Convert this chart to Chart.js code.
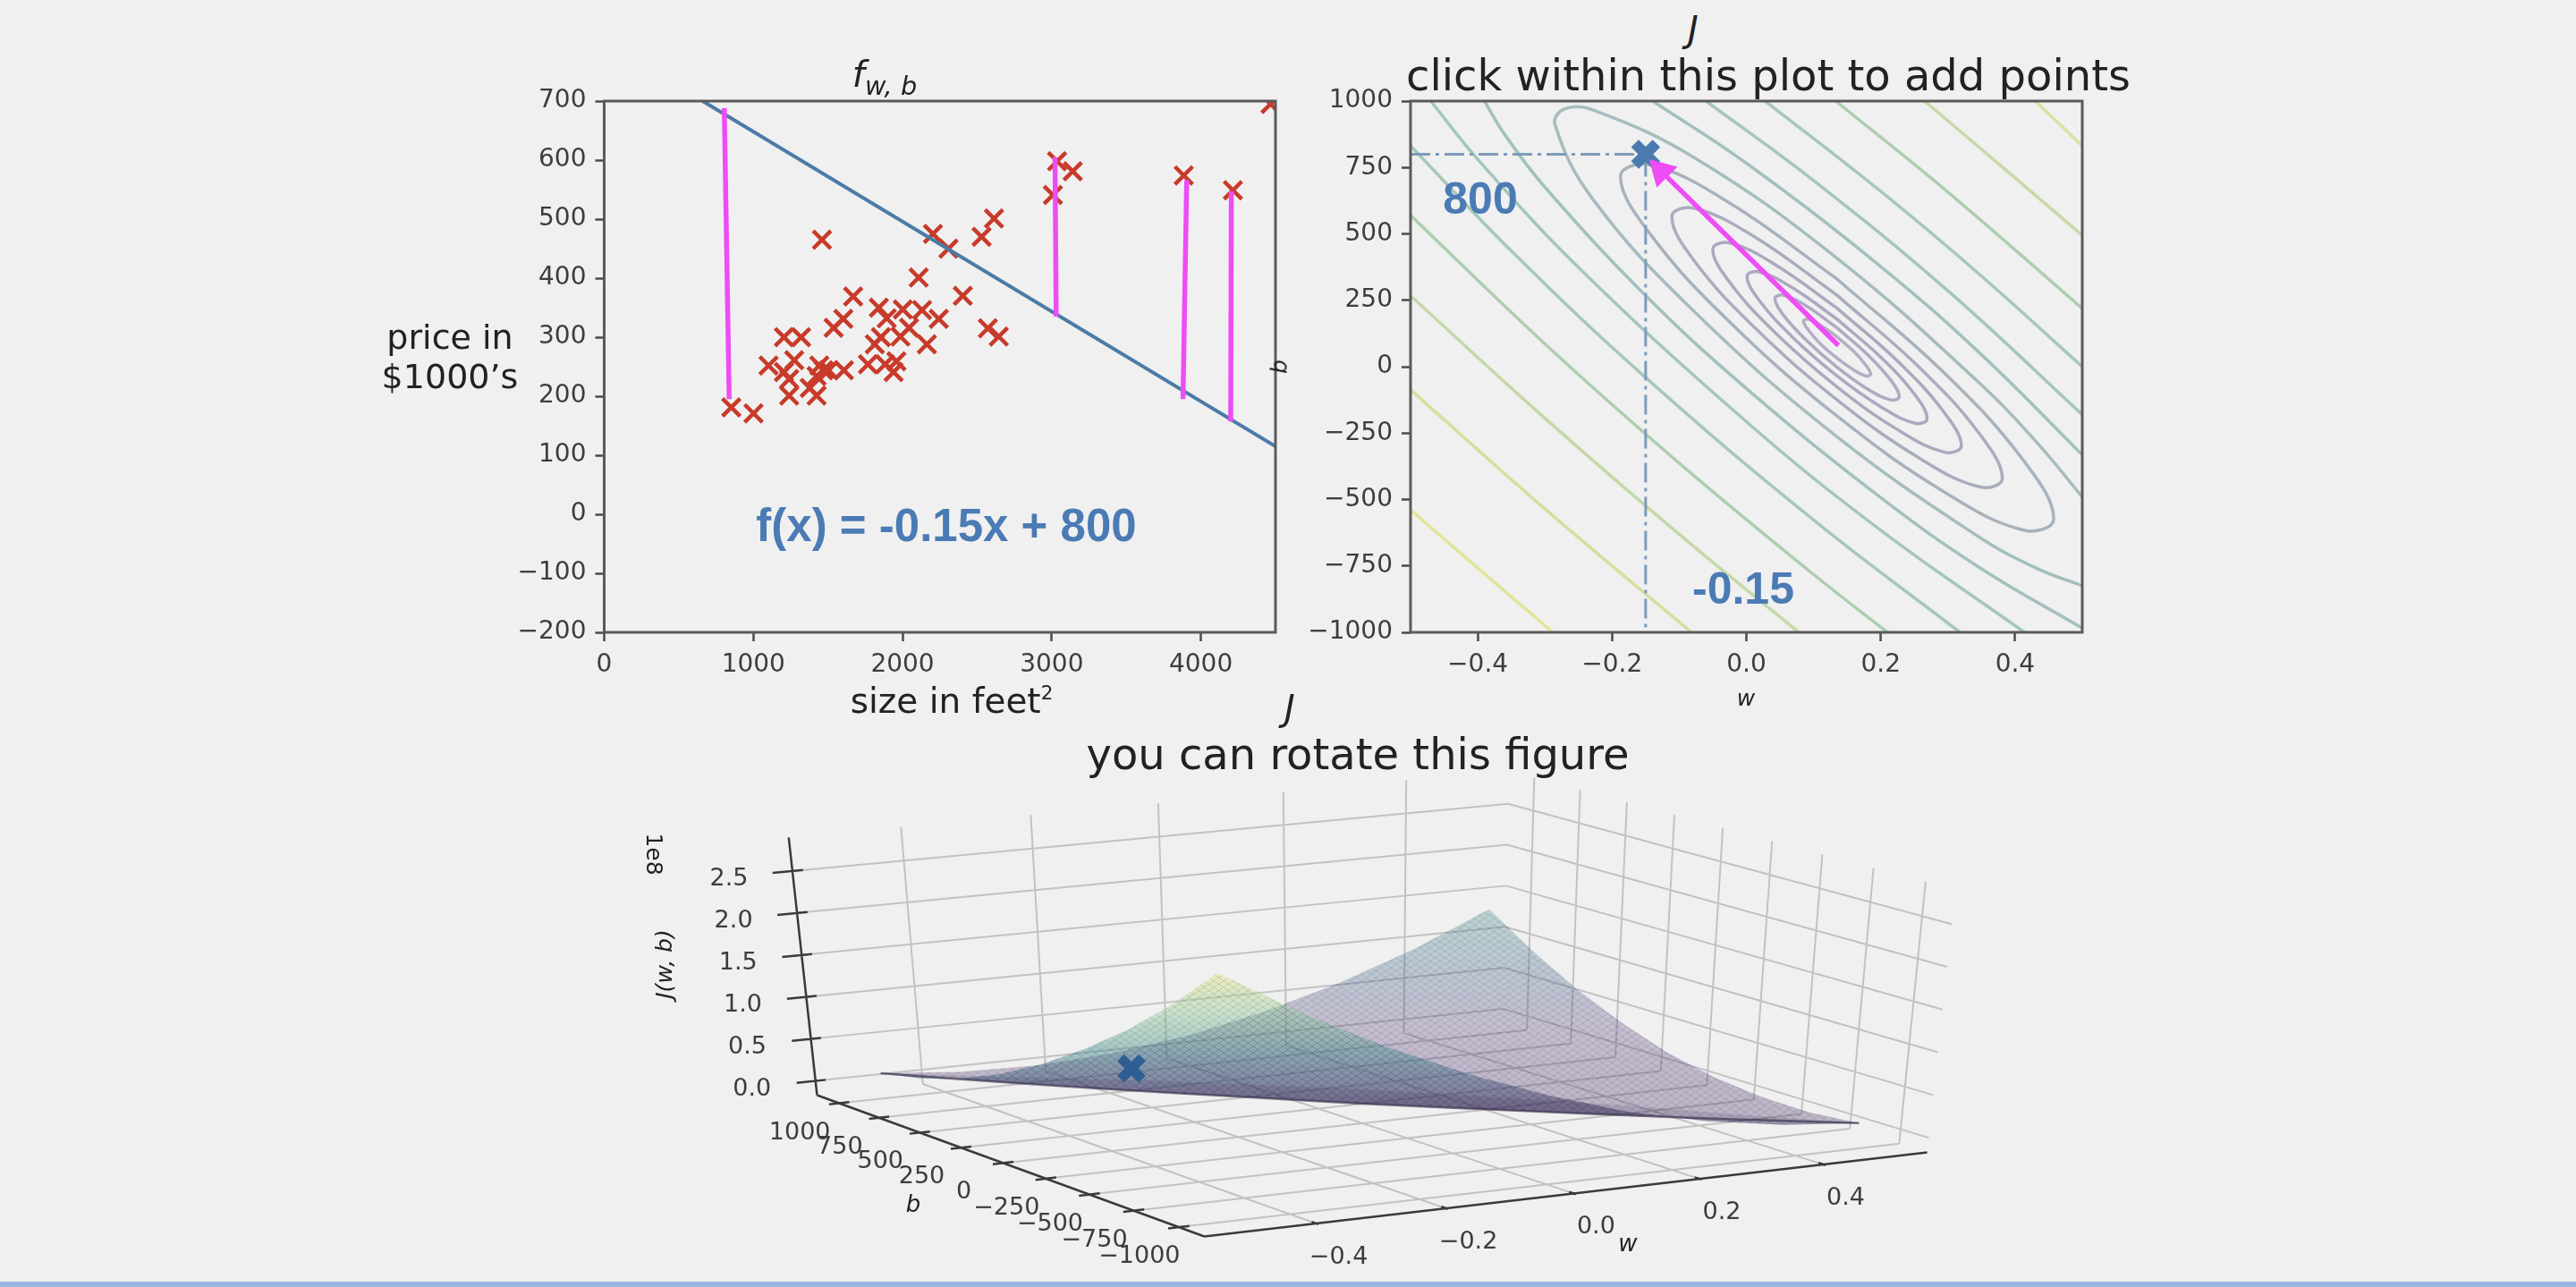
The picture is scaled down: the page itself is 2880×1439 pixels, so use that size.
<!DOCTYPE html>
<html>
<head>
<meta charset="utf-8">
<title>Cost surface</title>
<script src="https://cdn.jsdelivr.net/npm/chart.js@4"></script>
<style>
  html, body { margin: 0; padding: 0; background: #f0f0f0; overflow: hidden; }
  #page { position: relative; width: 2880px; height: 1439px; }
  canvas { position: absolute; }
  .txt { position: absolute; transform: translate(-50%, -50%); white-space: nowrap; color: #222; font-family: "DejaVu Sans", sans-serif; text-align: center; }
  .note { font-family: "Liberation Sans", sans-serif; font-weight: bold; color: #4b7bb5; }
  sub { font-size: 72%; vertical-align: -0.3em; line-height: 0; }
  sup { font-size: 55%; vertical-align: 0.7em; line-height: 0; }
  #strip { position: absolute; left: 0; top: 1433px; width: 2880px; height: 6px; background: #9ab6e4; }
</style>
</head>
<body>
<div id="page">
  <canvas id="fit" width="920" height="760" style="left:540px;top:60px"></canvas>
  <canvas id="contour" width="950" height="760" style="left:1440px;top:60px"></canvas>
  <canvas id="surface" width="1600" height="592" style="left:640px;top:840px"></canvas>
  <div id="strip"></div>
</div>
<script>
// house sizes (sqft) and prices ($1000's)
const sizes = [852,1001,1240,1240,1102,1205,1274,1205,1320,1378,1424,1424,1442,1470,1607,1504,1460,1538,1603,1669,1768,1883,1959,1940,1814,1855,1986,2044,2163,1841,1894,2002,2131,2243,2108,2404,2204,2308,2530,2613,2572,2645,3008,3036,3141,3885,4215,4467];
const prices = [181,171,201,229,252,241,261,300,300,214,201,234,252,244,244,244,465,316,331,369,254,254,259,241,288,300,301,316,288,350,332,347,346,331,401,370,475,450,470,501,315,301,541,598,581,574,549,695];

const fitX = [660, 4500];
const fitY = [700, 115];
// error bars, [x1,y1,x2,y2]
const errorBars = [[805,688,838,195],[3022,605,3030,335],[3905,566,3880,195],[4204,547,4200,157]];

const fitXTicks = [0,1000,2000,3000,4000];
const fitYTicks = [-200,-100,0,100,200,300,400,500,600,700];
const contourXTicks = [-0.4,-0.2,0.0,0.2,0.4];
const contourYTicks = [-1000,-750,-500,-250,0,250,500,750,1000];

const pickW = -0.15;
const pickB = 800;
const arrowW = [0.137, -0.127];
const arrowB = [80, 736];

// contour lines, [w,b] pairs
const ring1 = [[.135,112],[.110,157],[.092,179],[.085,172],[.092,139],[.110,87],[.135,32],[.160,-13],[.178,-35],[.185,-28],[.178,5],[.160,57],[.135,112]];
const ring2 = [[.135,146],[.089,229],[.055,269],[.0425,257],[.055,195],[.089,100],[.135,-2],[.181,-85],[.215,-125],[.2275,-113],[.215,-51],[.181,44],[.135,146]];
const ring3 = [[.135,179],[.068,298],[.019,357],[.001,340],[.019,250],[.068,113],[.135,-35],[.202,-154],[.251,-213],[.269,-196],[.251,-106],[.202,31],[.135,179]];
const ring4 = [[.135,220],[.0425,385],[-.025,466],[-.05,442],[-.025,318],[.0425,129],[.135,-76],[.2275,-241],[.295,-322],[.32,-298],[.295,-174],[.2275,15],[.135,220]];
const ring5 = [[.135,269],[.012,489],[-.078,597],[-.111,565],[-.078,400],[.012,148],[.135,-125],[.258,-345],[.348,-453],[.381,-421],[.348,-256],[.258,-4],[.135,269]];
const ring6 = [[.135,330],[-.026,618],[-.144,760],[-.1875,717],[-.144,502],[-.026,171],[.135,-186],[.296,-474],[.414,-616],[.4575,-573],[.414,-358],[.296,-27],[.135,330]];
const ring7 = [[.5,-825],[.432,-759],[.345,-639],[.135,-264],[-.075,201],[-.2287,631],[-.285,912],[-.271,970],[-.2287,967],[-.075,783],[.135,408],[.345,-57],[.432,-284],[.5,-490]];
const lowA = [[-.47,1000],[-.4,781],[-.25,374],[0,-207],[.2,-616],[.414,-1000]];
const lowB = [[-.39,1000],[-.36,875],[-.3,676],[-.15,268],[0,-82],[.2,-493],[.35,-761],[.5,-984]];
const lowC = [[-.5,832],[-.35,436],[-.15,-41],[.1,-577],[.318,-1000]];
const lowD = [[-.5,570],[-.3,86],[-.1,-363],[.1,-782],[.21,-1000]];
const lowE = [[-.5,267],[-.3,-194],[-.1,-631],[.078,-1000]];
const lowF = [[-.5,-87],[-.3,-535],[-.082,-1000]];
const lowG = [[-.5,-539],[-.4,-758],[-.288,-1000]];
const highA = [[-.06,1000],[.1,701],[.3,286],[.5,-180]];
const highB = [[-.14,1001],[0,766],[.2,377],[.35,45],[.5,-332]];
const highC = [[.028,1000],[.2,660],[.35,341],[.5,0]];
const highD = [[.133,1000],[.3,657],[.5,219]];
const highE = [[.265,1000],[.38,754],[.5,494]];
const highF = [[.43,1000],[.5,831]];

const contourLines = [
  [ring1,'#b4adc4'],[ring2,'#aeaac2'],[ring3,'#aaa9c0'],[ring4,'#a8aabd'],[ring5,'#a8adbd'],[ring6,'#a8b2bd'],[ring7,'#a6bcbf'],
  [lowA,'#a4c6bc'],[lowB,'#a2c0be'],[lowC,'#a6c8b8'],[lowD,'#afcdb0'],[lowE,'#c4d8a8'],[lowF,'#d6de9e'],[lowG,'#e2e49a'],
  [highA,'#a4c6bc'],[highB,'#a2c0be'],[highC,'#a6c8b8'],[highD,'#afcdb0'],[highE,'#c6d8a8'],[highF,'#dcdfa0']
];

// 3d figure: ticks and J (in 1e8) along the edges of the surface
const wTicks3d = [-0.4,-0.2,0.0,0.2,0.4];
const bTicks3d = [1000,750,500,250,0,-250,-500,-750,-1000];
const jTicks3d = [0,0.5,1,1.5,2,2.5];
const edgeB = [1000,750,500,250,0,-250,-500,-750,-1000];
const edgeW = [-0.5,-0.375,-0.25,-0.125,0,0.125,0.25,0.375,0.5];
const jLeftEdge = [.13,.24,.41,.64,.93,1.28,1.68,2.15,2.70];   // w=-0.5
const jFrontEdge = [2.70,2.12,1.63,1.21,.86,.57,.36,.21,.13];  // b=-1000
const jBackEdge = [.13,.05,.03,.08,.20,.39,.64,.96,1.35];      // b=1000
const jRightEdge = [1.35,1.0,.70,.46,.27,.15,.09,.08,.13];     // w=0.5
const valleyB = [1000,750,500,250,0,-250,-500,-750,-1000];
const jValley = [.13,.10,.08,.07,.06,.07,.08,.10,.13];
const jBand = [.13,.16,.20,.22,.23,.22,.20,.16,.13];
const pickJ = 0.05;

// view of the 3d box on the page
const wLo = -0.57, wHi = 0.57, bLo = -1140, bHi = 1140, jLo = -0.17, jHi = 2.9;
const floorQuad = [[913.5,1224.5],[1680,1143.5],[2154.6,1288.4],[1346.5,1382.5]];
const topQuad = [[881.8,936.4],[1687,862],[2186,995],[1336,1084]];

function quadMap(q) {
  const [p0,p1,p2,p3] = q;
  const dx1=p1[0]-p2[0], dx2=p3[0]-p2[0], sx=p0[0]-p1[0]+p2[0]-p3[0];
  const dy1=p1[1]-p2[1], dy2=p3[1]-p2[1], sy=p0[1]-p1[1]+p2[1]-p3[1];
  const den=dx1*dy2-dx2*dy1;
  const g=(sx*dy2-dx2*sy)/den, h=(dx1*sy-sx*dy1)/den;
  const a=p1[0]-p0[0]+g*p1[0], b=p3[0]-p0[0]+h*p3[0];
  const d=p1[1]-p0[1]+g*p1[1], e=p3[1]-p0[1]+h*p3[1];
  return (u,v) => { const k=g*u+h*v+1; return [(a*u+b*v+p0[0])/k,(d*u+e*v+p0[1])/k]; };
}
const floorMap = quadMap(floorQuad), topMap = quadMap(topQuad);

function project(w,b,j) {
  const u=(w-wLo)/(wHi-wLo), v=(bHi-b)/(bHi-bLo), t=(j-jLo)/(jHi-jLo);
  const f=floorMap(u,v), c=topMap(u,v);
  return {x:f[0]+(c[0]-f[0])*t, y:f[1]+(c[1]-f[1])*t};
}

const zip = (xs,ys) => xs.map((x,i)=>({x:x,y:ys[i]}));
const pairs = rows => rows.map(r=>({x:r[0],y:r[1]}));
const minus = v => String(v).replace('-','\u2212');

Chart.defaults.font.family = '"DejaVu Sans", sans-serif';
Chart.defaults.animation = false;
Chart.defaults.responsive = false;
Chart.defaults.plugins.legend.display = false;
Chart.defaults.plugins.tooltip.enabled = false;
Chart.defaults.devicePixelRatio = 1;

const frame = {
  id: 'frame',
  afterDatasetsDraw(chart) {
    const a = chart.chartArea, c = chart.ctx;
    c.save();
    c.strokeStyle = '#5a5a5a';
    c.lineWidth = 3;
    c.strokeRect(a.left, a.top, a.right-a.left, a.bottom-a.top);
    c.restore();
  }
};

function axis(min, max, ticks, fmt, fitSize, horizontal) {
  return {
    type: 'linear', min: min, max: max,
    grid: { drawOnChartArea: false, tickLength: 10, tickWidth: 2.5, tickColor: '#4a4a4a' },
    border: { display: false },
    afterBuildTicks: s => { s.ticks = ticks.map(v=>({value:v})); },
    afterFit: s => { if (horizontal) s.height = fitSize; else s.width = fitSize; },
    ticks: { autoSkip: false, maxRotation: 0, color: '#3d3d3d', padding: 10, font: {size: 28}, callback: fmt }
  };
}

// left plot
const barSets = errorBars.map(r => ({
  data: [{x:r[0],y:r[1]},{x:r[2],y:r[3]}], showLine: true, borderColor: '#ee4cf5', borderWidth: 5.5, pointRadius: 0, order: 1
}));
new Chart(document.getElementById('fit'), {
  type: 'scatter',
  data: { datasets: barSets.concat([
    { data: zip(sizes,prices), pointStyle: 'crossRot', pointRadius: 14, borderColor: '#c83a2a', pointBorderWidth: 4.5, showLine: false, order: 3 },
    { data: zip(fitX,fitY), showLine: true, borderColor: '#4b7ba6', borderWidth: 4, pointRadius: 0, order: 2 }
  ])},
  options: {
    layout: { autoPadding: false, padding: { top: 53, right: 34 } },
    scales: {
      x: axis(0, 4500, fitXTicks, v=>minus(v), 113, true),
      y: axis(-200, 700, fitYTicks, v=>minus(v), 135.5, false)
    }
  },
  plugins: [frame]
});

// right plot
const lineSets = contourLines.map(l => ({
  data: pairs(l[0]), showLine: true, tension: 0.4, borderColor: l[1], borderWidth: 3.5, pointRadius: 0, order: 5
}));
const fmtW = v => minus(v.toFixed(1));
new Chart(document.getElementById('contour'), {
  type: 'scatter',
  data: { datasets: lineSets.concat([
    { data: [{x:-0.5,y:pickB},{x:pickW,y:pickB},{x:pickW,y:-1000}], showLine: true, borderColor: '#7e9cb8', borderWidth: 3, borderDash: [22,6,4,6], pointRadius: 0, order: 4 },
    { data: [{x:pickW,y:pickB}], pointStyle: 'crossRot', pointRadius: 17, pointBorderWidth: 12, borderColor: '#4a7ab0', showLine: false, order: 3 },
    { data: zip(arrowW,arrowB), showLine: true, borderColor: '#ee4cf5', borderWidth: 5.5, pointRadius: 0, order: 2 },
    { data: [{x:arrowW[1],y:arrowB[1]}], pointStyle: 'triangle', pointRadius: 19, rotation: -45, backgroundColor: '#ee4cf5', pointBorderWidth: 0, borderWidth: 0, showLine: false, order: 1 }
  ])},
  options: {
    layout: { autoPadding: false, padding: { top: 53, right: 62 } },
    scales: {
      x: axis(-0.5, 0.5, contourXTicks, fmtW, 113, true),
      y: axis(-1000, 1000, contourYTicks, v=>minus(v), 137, false)
    }
  },
  plugins: [frame]
});

// 3d figure
const ox = 640, oy = 840, ow = 1600, oh = 592;
function seg(list,a,b) { list.push(a,b,{x:NaN,y:NaN}); return list; }

const gridPts = [];
wTicks3d.forEach(w => {
  seg(gridPts, project(w,bHi,jLo), project(w,bLo,jLo));
  seg(gridPts, project(w,bHi,jLo), project(w,bHi,jHi));
});
bTicks3d.forEach(b => {
  seg(gridPts, project(wLo,b,jLo), project(wHi,b,jLo));
  seg(gridPts, project(wHi,b,jLo), project(wHi,b,jHi));
});
jTicks3d.forEach(j => {
  seg(gridPts, project(wLo,bHi,j), project(wHi,bHi,j));
  seg(gridPts, project(wHi,bHi,j), project(wHi,bLo,j));
});

const axisPts = [];
seg(axisPts, project(wLo,bHi,jLo), project(wLo,bHi,jHi));
seg(axisPts, project(wLo,bHi,jLo), project(wLo,bLo,jLo));
seg(axisPts, project(wLo,bLo,jLo), project(wHi,bLo,jLo));
jTicks3d.forEach(j => seg(axisPts, project(wLo-0.03,bHi,j), project(wLo+0.016,bHi,j)));
bTicks3d.forEach(b => seg(axisPts, project(wLo-0.016,b,jLo), project(wLo+0.016,b,jLo)));
wTicks3d.forEach(w => seg(axisPts, project(w,bLo-12,jLo), project(w,bLo+24,jLo)));

const valleyPts = valleyB.map((b,i) => project(edgeW[i],b,jValley[i]));
const bandPts = valleyB.map((b,i) => project(edgeW[i],b,jBand[i]));
const frontSheet = edgeB.map((b,i) => project(-0.5,b,jLeftEdge[i]))
  .concat(edgeW.map((w,i) => project(w,-1000,jFrontEdge[i])))
  .concat(valleyPts.slice().reverse());
const backSheet = edgeW.map((w,i) => project(w,1000,jBackEdge[i]))
  .concat(edgeB.map((b,i) => project(0.5,b,jRightEdge[i])))
  .concat(valleyPts.slice().reverse());
const bandShape = valleyPts.concat(bandPts.slice().reverse());

function sheetFill(top, bottomY, stops) {
  const cv = document.createElement('canvas');
  cv.width = ow; cv.height = oh;
  const c = cv.getContext('2d');
  const g = c.createLinearGradient(0, top.y-oy, 0, bottomY-oy);
  stops.forEach(s => g.addColorStop(s[0], s[1]));
  c.fillStyle = g;
  c.fillRect(0,0,ow,oh);
  // surface mesh
  c.strokeStyle = 'rgba(45,45,75,0.15)';
  c.lineWidth = 1;
  c.beginPath();
  for (let i=-oh; i<ow+oh; i+=11) {
    c.moveTo(i,0); c.lineTo(i+oh*1.5,oh);
    c.moveTo(i,0); c.lineTo(i-oh*1.5,oh);
  }
  c.stroke();
  return document.createElement('canvas').getContext('2d').createPattern(cv,'no-repeat');
}
const frontFill = sheetFill(project(-0.5,-1000,2.70), 1235, [
  [0,'rgba(236,232,120,0.42)'],[0.3,'rgba(140,205,150,0.40)'],[0.6,'rgba(60,140,140,0.42)'],[0.85,'rgba(60,80,120,0.46)'],[1,'rgba(60,50,95,0.50)']
]);
const backFill = sheetFill(project(0.5,1000,1.35), 1245, [
  [0,'rgba(70,150,140,0.32)'],[0.3,'rgba(70,105,145,0.30)'],[0.6,'rgba(85,60,125,0.28)'],[1,'rgba(85,55,110,0.32)']
]);

const labels3d = {
  id: 'labels3d',
  afterDatasetsDraw(chart) {
    const c = chart.ctx, sx = chart.scales.x, sy = chart.scales.y;
    c.save();
    c.fillStyle = '#3d3d3d';
    c.font = '27px "DejaVu Sans"';
    c.textAlign = 'center';
    c.textBaseline = 'middle';
    const put = (t,p,dx,dy) => c.fillText(t, sx.getPixelForValue(p.x+dx), sy.getPixelForValue(p.y+dy));
    jTicks3d.forEach(j => put(j.toFixed(1), project(wLo,bHi,j), -71, 9));
    bTicks3d.forEach(b => put(minus(b), project(wLo,b,jLo), -44, 33));
    wTicks3d.forEach(w => put(minus(w.toFixed(1)), project(w,bLo,jLo), 25, 38));
    c.restore();
  }
};

new Chart(document.getElementById('surface'), {
  type: 'scatter',
  data: { datasets: [
    { data: [project(pickW,pickB,pickJ)], pointStyle: 'crossRot', pointRadius: 17, pointBorderWidth: 11, borderColor: '#2f5f92', showLine: false, order: 1 },
    { data: valleyPts, showLine: true, tension: 0.3, borderColor: 'rgba(50,45,70,0.65)', borderWidth: 2.5, pointRadius: 0, order: 2 },
    { data: bandShape, showLine: true, fill: 'shape', backgroundColor: 'rgba(60,50,85,0.16)', borderWidth: 0, pointRadius: 0, order: 3 },
    { data: frontSheet, showLine: true, fill: 'shape', backgroundColor: frontFill, borderWidth: 0, pointRadius: 0, order: 4 },
    { data: axisPts, showLine: true, spanGaps: false, borderColor: '#3a3a3a', borderWidth: 2.5, pointRadius: 0, order: 5 },
    { data: backSheet, showLine: true, fill: 'shape', backgroundColor: backFill, borderWidth: 0, pointRadius: 0, order: 6 },
    { data: gridPts, showLine: true, spanGaps: false, borderColor: '#c2c2c2', borderWidth: 2, pointRadius: 0, order: 7 }
  ]},
  options: {
    layout: { autoPadding: false, padding: 0 },
    scales: {
      x: { type: 'linear', display: false, min: ox, max: ox+ow },
      y: { type: 'linear', display: false, min: oy, max: oy+oh, reverse: true }
    }
  },
  plugins: [labels3d]
});

// titles and notes
const page = document.getElementById('page');
function addText(html,x,y,size,cls,rot) {
  const d = document.createElement('div');
  d.className = 'txt ' + (cls||'');
  d.innerHTML = html;
  d.style.left = x+'px';
  d.style.top = y+'px';
  d.style.fontSize = size+'px';
  if (rot) d.style.transform = 'translate(-50%,-50%) rotate('+rot+'deg)';
  page.appendChild(d);
}
addText('<i>f<sub>w, b</sub></i>', 989, 83, 40);
addText('<i>J</i>', 1893, 33, 40);
addText('click within this plot to add points', 1977, 84, 48);
addText('size in feet<sup>2</sup>', 1064, 783, 39);
addText('price in<br>$1000\u2019s', 503, 399, 38);
addText('<i>w</i>', 1952, 780, 25);
addText('<i>b</i>', 1430, 410, 25, '', -90);
addText('f(x) = -0.15x + 800', 1058, 587, 51, 'note');
addText('800', 1655, 222, 50, 'note');
addText('-0.15', 1949, 658, 50, 'note');
addText('<i>J</i>', 1442, 792, 40);
addText('you can rotate this figure', 1518, 843, 48);
addText('1e8', 731, 955, 25, '', 90);
addText('<i>J(w, b)</i>', 742, 1078, 25, '', -90);
addText('<i>b</i>', 1021, 1346, 26);
addText('<i>w</i>', 1820, 1390, 26);
</script>
</body>
</html>
